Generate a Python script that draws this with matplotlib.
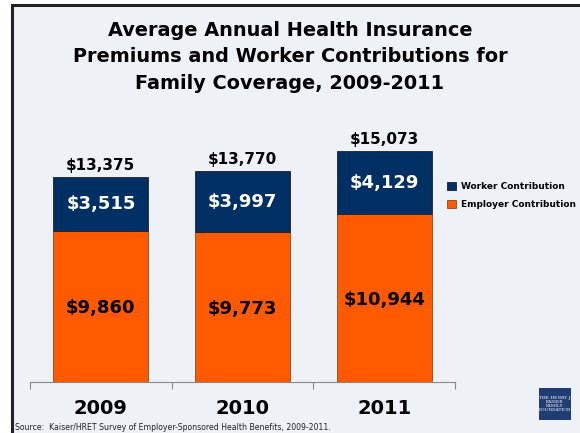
import numpy as np
import matplotlib.pyplot as plt
from matplotlib.patches import Rectangle

years = ['2009', '2010', '2011']
employer = [9860, 9773, 10944]
worker = [3515, 3997, 4129]
totals = [13375, 13770, 15073]

navy = '#003063'
orange = '#ff5a00'
bg = '#eef1f6'

fig = plt.figure(figsize=(5.8, 4.33), dpi=100)
fig.patch.set_facecolor('white')

# slide frame
frame = Rectangle((12/580, -0.05), 1.0, 1.05 - 5/433, transform=fig.transFigure,
                  facecolor=bg, edgecolor='#222222', linewidth=2.2, zorder=-10)
fig.patches.append(frame)

fig.text(0.5, 1 - 57/433, 'Average Annual Health Insurance\nPremiums and Worker Contributions for\nFamily Coverage, 2009-2011',
         ha='center', va='center', fontsize=13.9, fontweight='bold', linespacing=1.5)

ax = fig.add_axes([30/580, 1 - 382/433, 425/580, 245/433])
ax.set_facecolor('none')
x = np.arange(len(years))
w = 0.67
ax.bar(x, employer, w, color=orange, edgecolor='#8a4a20', linewidth=0.6, label='Employer Contribution')
ax.bar(x, worker, w, bottom=employer, color=navy, edgecolor='#222222', linewidth=0.6, label='Worker Contribution')

for i in range(len(years)):
    ax.text(x[i], employer[i] / 2 - 100, '${:,}'.format(employer[i]), ha='center', va='center',
            fontsize=13, fontweight='bold', color='black')
    ax.text(x[i], employer[i] + worker[i] / 2, '${:,}'.format(worker[i]), ha='center', va='center',
            fontsize=13, fontweight='bold', color='white')
    ax.text(x[i], totals[i] + 250, '${:,}'.format(totals[i]), ha='center', va='bottom',
            fontsize=11, fontweight='bold', color='black')

ax.set_xlim(-0.5, 2.5)
ax.set_ylim(0, 16000)
for s in ['top', 'right', 'left']:
    ax.spines[s].set_visible(False)
ax.spines['bottom'].set_color('#888888')
ax.set_yticks([])
ax.set_xticks([-0.5, 0.5, 1.5, 2.5])
ax.set_xticklabels([])
ax.tick_params(axis='x', length=5, color='#888888', direction='out')
ax.set_xticks(x, minor=True)
ax.set_xticklabels(years, minor=True, fontsize=14, fontweight='bold')
ax.tick_params(axis='x', which='minor', length=0, pad=12)

h, l = ax.get_legend_handles_labels()
fig.legend(h[::-1], l[::-1], loc='upper left', bbox_to_anchor=(443/580, 1 - 178/433),
           frameon=False, prop={'size': 6.5, 'weight': 'bold'}, handlelength=1.05,
           handleheight=1.05, labelspacing=1.0, handletextpad=0.55, borderaxespad=0)

# logo
logo = Rectangle((539/580, 1 - 420/433), 32/580, 32/433, transform=fig.transFigure,
                 facecolor='#1f3d73', edgecolor='none')
fig.patches.append(logo)
fig.text(555/580, 1 - 404/433, 'THE HENRY J.\nKAISER\nFAMILY\nFOUNDATION', ha='center', va='center',
         fontsize=3.2, color='white', family='DejaVu Serif', linespacing=1.0)

fig.text(15/580, 1 - 427/433, 'Source:  Kaiser/HRET Survey of Employer-Sponsored Health Benefits, 2009-2011.',
         ha='left', va='center', fontsize=5.6, color='#222222')

fig.savefig('out.png', dpi=100)
